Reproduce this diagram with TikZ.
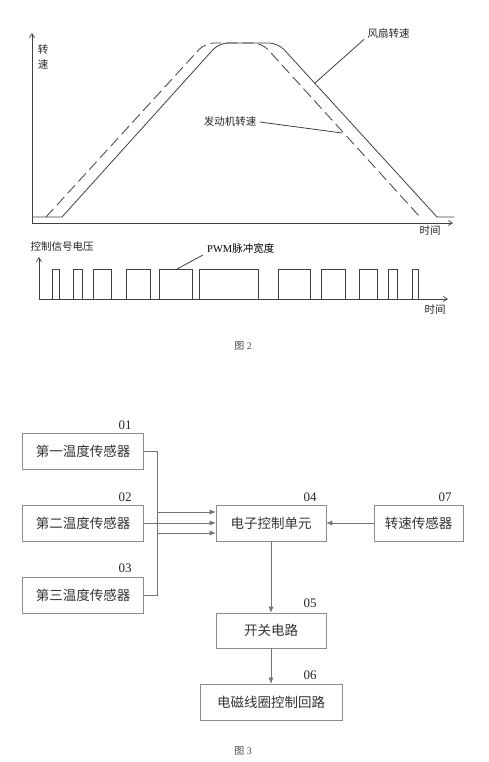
\documentclass[tikz,border=0pt]{standalone}
\usepackage{fontspec}
\setmainfont{Liberation Serif}
\newfontfamily\cjk{Noto Sans CJK SC}
\usetikzlibrary{arrows.meta}
\tikzset{
  ln/.style={line width=0.8pt, draw=black!75},
  blk/.style={draw=black!45, line width=0.6pt, minimum height=36pt, inner sep=0pt, font=\cjk\fontsize{13.5}{14}\selectfont, text=black!80},
  num/.style={font=\fontsize{13}{14}\selectfont, text=black!85},
  glab/.style={font=\cjk\fontsize{10.5}{11}\selectfont, text=black!85},
  conn/.style={draw=black!55, line width=0.6pt, -{Latex[length=6pt,width=5pt]}},
  axis/.style={draw=black!75, line width=0.7pt, -{Straight Barb[length=4pt,width=5pt]}},
  figcap/.style={font=\fontsize{10}{11}\selectfont, text=black!70}
}
\begin{document}
\begin{tikzpicture}[x=1pt,y=-1pt]
\useasboundingbox (0,0) rectangle (489,762);
% ---------- figure 2, upper graph ----------
\coordinate (o1) at (32,223);
\draw[axis] (o1) -- (32,33);
\draw[axis] (o1) -- (453,223);
\node[glab] (yl1) at (43,50) {转};
\node[glab] (yl2) at (43,64) {速};
\node[glab] (t1) at (430,231) {时间};
% fan speed (solid)
\draw[ln] (32,217) -- (62,217) [rounded corners=9pt] -- (219,43) -- (278,43) [sharp corners] -- (437,217) -- (454,217);
% engine speed (dashed)
\draw[ln, dash pattern=on 11pt off 5pt] (46,217) [rounded corners=9pt] -- (205,43) -- (262,43) [sharp corners] -- (420,217);
\node[glab, anchor=west] (fan) at (364,34) {风扇转速};
\coordinate (fanp) at (315,83);
\draw[ln] (fan.south west) ++(0,-3) -- (fanp);
\node[glab] (eng) at (230,122) {发动机转速};
\coordinate (engp) at (342,133);
\draw[ln] (eng.east) -- (engp);
% ---------- figure 2, lower graph ----------
\coordinate (o2) at (39,299);
\draw[axis] (o2) -- (39,257);
\draw[axis] (o2) -- (448,299);
\node[glab] (yl3) at (62,247) {控制信号电压};
\node[glab] (t2) at (435,310) {时间};
\foreach \a/\b in {52.7/59,73.3/82.7,93.7/111.7,126/150,159.3/192,199.3/258.3,278.7/310.7,321/345,359/377.7,388.3/397.7,412/418.7}{
  \draw[ln] (\a,299) -- (\a,269) -- (\b,269) -- (\b,299);
}
\node[font=\fontsize{10.5}{11}\selectfont, anchor=west, inner sep=0pt] (pwm) at (207,249) {PWM{\cjk 脉冲宽度}};
\coordinate (pwmp) at (177,269);
\draw[ln] (203,255) -- (pwmp);
\node[figcap] (f2) at (243,346) {{\cjk 图} 2};
% ---------- figure 3 ----------
\node[blk, minimum width=121pt] (s1) at (83,451) {第一温度传感器};
\node[blk, minimum width=121pt] (s2) at (83,523) {第二温度传感器};
\node[blk, minimum width=121pt] (s3) at (83,595) {第三温度传感器};
\node[blk, minimum width=110pt] (ecu) at (271,523) {电子控制单元};
\node[blk, minimum width=89pt] (spd) at (418.5,523) {转速传感器};
\node[blk, minimum width=110pt, minimum height=35pt] (sw) at (271,630.5) {开关电路};
\node[blk, minimum width=142pt] (coil) at (271,702) {电磁线圈控制回路};
\node[num] (n1) at (125,425) {01};
\node[num] (n2) at (125,497) {02};
\node[num] (n3) at (125,568) {03};
\node[num] (n4) at (310,497) {04};
\node[num] (n7) at (445,497) {07};
\node[num] (n5) at (310,603) {05};
\node[num] (n6) at (310,675) {06};
\draw[conn] (s1.east) -- (157,451) |- ([yshift=-10pt]ecu.west);
\draw[conn] (s2.east) -- (ecu.west);
\draw[conn] (s3.east) -- (157,595) |- ([yshift=11pt]ecu.west);
\draw[conn] (spd.west) -- (ecu.east);
\draw[conn] (ecu.south) -- (sw.north);
\draw[conn] (sw.south) -- (coil.north);
\node[figcap] (f3) at (243,751) {{\cjk 图} 3};
\end{tikzpicture}
\end{document}
